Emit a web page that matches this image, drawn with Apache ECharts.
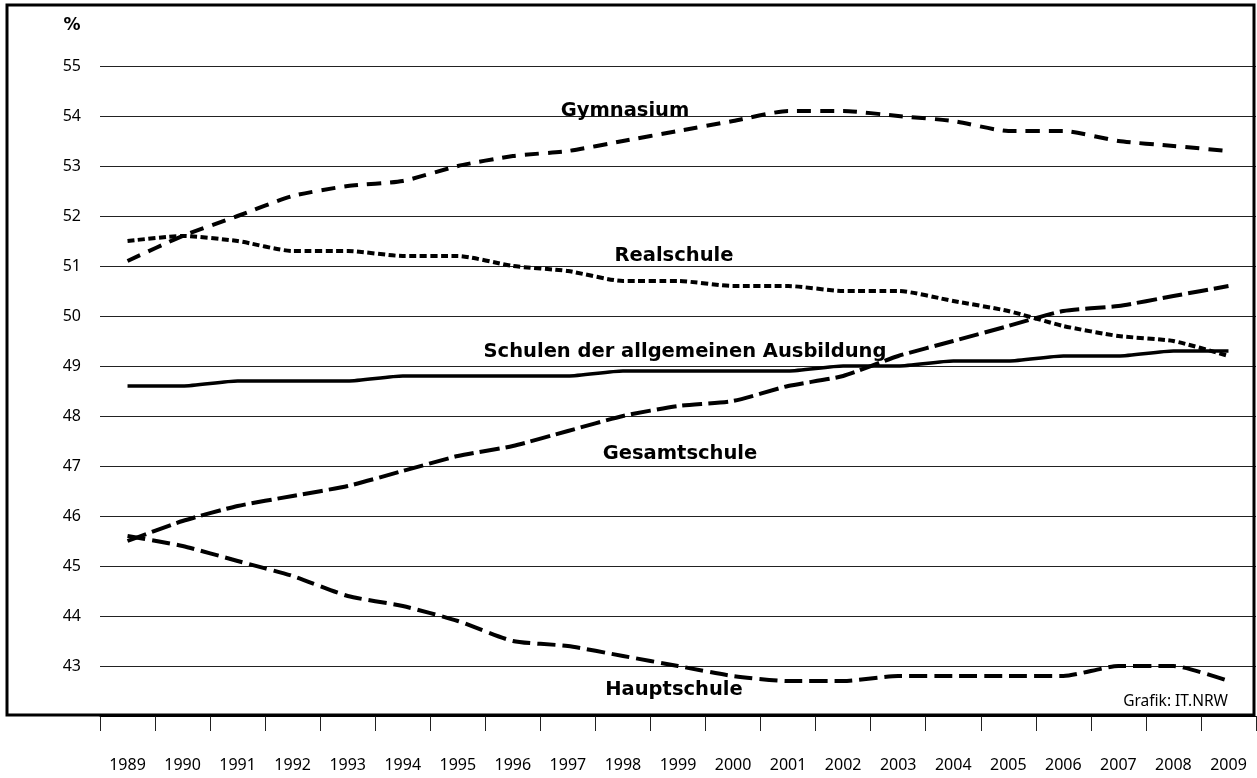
<!DOCTYPE html>
<html>
<head>
<meta charset="utf-8">
<script src="https://cdn.jsdelivr.net/npm/echarts@6/dist/echarts.min.js"></script>
<style>
  html, body { margin: 0; padding: 0; background: #fff; }
  #chart { width: 1257px; height: 778px; }
</style>
</head>
<body>
<div id="chart"></div>
<script>
const years = ['1989','1990','1991','1992','1993','1994','1995','1996','1997','1998','1999','2000','2001','2002','2003','2004','2005','2006','2007','2008','2009'];
const yTicks = [43,44,45,46,47,48,49,50,51,52,53,54,55];

const gymnasium   = [51.1,51.6,52.0,52.4,52.6,52.7,53.0,53.2,53.3,53.5,53.7,53.9,54.1,54.1,54.0,53.9,53.7,53.7,53.5,53.4,53.3];
const realschule  = [51.5,51.6,51.5,51.3,51.3,51.2,51.2,51.0,50.9,50.7,50.7,50.6,50.6,50.5,50.5,50.3,50.1,49.8,49.6,49.5,49.2];
const allgemein   = [48.6,48.6,48.7,48.7,48.7,48.8,48.8,48.8,48.8,48.9,48.9,48.9,48.9,49.0,49.0,49.1,49.1,49.2,49.2,49.3,49.3];
const gesamtschule= [45.5,45.9,46.2,46.4,46.6,46.9,47.2,47.4,47.7,48.0,48.2,48.3,48.6,48.8,49.2,49.5,49.8,50.1,50.2,50.4,50.6];
const hauptschule = [45.6,45.4,45.1,44.8,44.4,44.2,43.9,43.5,43.4,43.2,43.0,42.8,42.7,42.7,42.8,42.8,42.8,42.8,43.0,43.0,42.7];

const FONT = '"Noto Sans", "Open Sans", sans-serif';
const BOLDFONT = '"DejaVu Sans", "Noto Sans", sans-serif';
const chart = echarts.init(document.getElementById('chart'), null, {renderer: 'canvas'});

function lineSeries(name, data, width, dash) {
  return {
    name: name, type: 'line', data: data,
    symbol: 'none', smooth: 0.2, silent: true,
    lineStyle: { color: '#000', width: width, type: dash, cap: 'butt', join: 'round' },
    z: 5
  };
}

function label(text, x, y, size, weight, family, align) {
  return {
    type: 'text', x: x, y: y, z: 20, silent: true,
    style: { text: text, font: weight + ' ' + size + 'px ' + family, fill: '#000',
             align: align || 'center', verticalAlign: 'middle' }
  };
}

chart.setOption({
  animation: false,
  backgroundColor: '#fff',
  grid: { left: 100, right: 1, top: 66, bottom: 62 },
  xAxis: {
    type: 'category', data: years, boundaryGap: true,
    axisLine: { show: true, lineStyle: { color: '#000', width: 1 } },
    axisTick: { show: true, length: 15, lineStyle: { color: '#222', width: 1 } },
    axisLabel: { color: '#000', fontSize: 16, fontFamily: FONT, margin: 41, interval: 0 },
    splitLine: { show: false }
  },
  yAxis: {
    type: 'value', min: 42, max: 55, interval: 1,
    axisLine: { show: false }, axisTick: { show: false },
    axisLabel: { color: '#000', fontSize: 16, fontFamily: FONT, margin: 19,
      formatter: v => yTicks.indexOf(v) >= 0 ? String(v) : '' },
    splitLine: { show: true, lineStyle: { color: '#222', width: 1 } }
  },
  series: [
    lineSeries('Gymnasium', gymnasium, 4, [14, 9]),
    lineSeries('Realschule', realschule, 4, [7, 3.5]),
    lineSeries('Schulen der allgemeinen Ausbildung', allgemein, 3.5, 'solid'),
    lineSeries('Gesamtschule', gesamtschule, 4, [20, 6]),
    lineSeries('Hauptschule', hauptschule, 4, [18, 7])
  ],
  graphic: [
    { type: 'rect', z: 30, silent: true, shape: { x: 7, y: 5, width: 1247, height: 710 },
      style: { fill: 'none', stroke: '#000', lineWidth: 3 } },
    label('%', 72, 26, 17, 'bold', BOLDFONT),
    label('Gymnasium', 625, 111, 19.5, 'bold', BOLDFONT),
    label('Realschule', 674, 256, 19.5, 'bold', BOLDFONT),
    label('Schulen der allgemeinen Ausbildung', 685, 352, 19.5, 'bold', BOLDFONT),
    label('Gesamtschule', 680, 454, 19.5, 'bold', BOLDFONT),
    label('Hauptschule', 674, 690, 19.5, 'bold', BOLDFONT),
    label('Grafik: IT.NRW', 1228, 702, 15.5, 'normal', FONT, 'right')
  ]
});
</script>
</body>
</html>
